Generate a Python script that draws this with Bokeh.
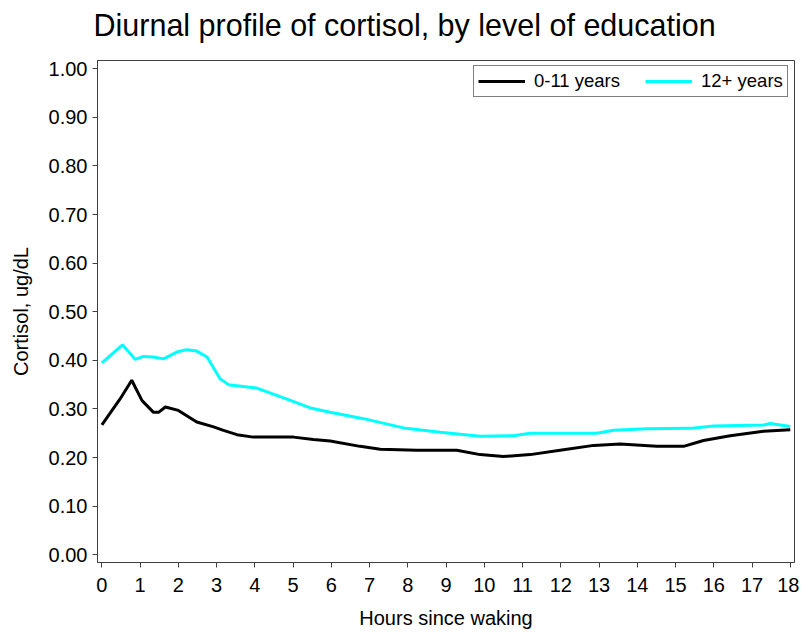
from bokeh.plotting import figure
from bokeh.models import Range1d, FixedTicker, Legend, LegendItem, CustomJSTickFormatter, Title
from bokeh.embed import file_html
from bokeh.resources import INLINE

# Hours since waking / cortisol (ug/dL)
hours_low = [0.00, 0.48, 0.78, 1.05, 1.35, 1.48, 1.66, 2.00, 2.48, 2.92, 3.18, 3.53,
             3.96, 5.01, 5.53, 5.97, 6.75, 7.28, 8.24, 9.28, 9.89, 10.50, 11.20,
             12.07, 12.86, 13.55, 14.51, 15.21, 15.73, 16.43, 17.30, 18.00]
cortisol_low = [0.267, 0.321, 0.359, 0.317, 0.293, 0.293, 0.304, 0.297, 0.273, 0.263,
                0.256, 0.247, 0.242, 0.242, 0.237, 0.234, 0.223, 0.217, 0.215, 0.215,
                0.206, 0.202, 0.206, 0.216, 0.225, 0.228, 0.223, 0.223, 0.235, 0.245,
                0.254, 0.257]

hours_high = [0.00, 0.54, 0.87, 1.09, 1.35, 1.61, 1.96, 2.22, 2.48, 2.75, 3.09, 3.31,
              4.05, 4.84, 5.45, 5.97, 6.84, 7.89, 8.85, 9.89, 10.76, 11.20, 12.94,
              13.38, 14.25, 15.38, 15.99, 17.30, 17.48, 18.00]
cortisol_high = [0.395, 0.432, 0.402, 0.408, 0.407, 0.403, 0.417, 0.422, 0.419, 0.407,
                 0.362, 0.350, 0.343, 0.320, 0.302, 0.293, 0.280, 0.261, 0.252, 0.244,
                 0.245, 0.250, 0.250, 0.256, 0.259, 0.260, 0.265, 0.267, 0.270, 0.264]

title_text = "Diurnal profile of cortisol, by level of education"
series_labels = ["0-11 years", "12+ years"]
x_ticks = list(range(0, 19))
y_ticks = [0.0, 0.1, 0.2, 0.3, 0.4, 0.5, 0.6, 0.7, 0.8, 0.9, 1.0]

FONT = "Liberation Sans"
AXC = "#404040"

p = figure(width=799, height=636, output_backend="svg", toolbar_location=None,
           x_range=Range1d(-0.115, 18.11), y_range=Range1d(-0.016, 1.017),
           min_border_left=97, min_border_right=5, min_border_top=60, min_border_bottom=74)

# blank spacer between frame and title (white space on white), then the title itself
p.add_layout(Title(text=" ", text_font=FONT, text_font_size="10px", standoff=6,
                   text_color="white"), "above")
p.add_layout(Title(text=title_text, text_font=FONT, text_font_size="30.5px",
                   text_font_style="normal", text_color="black", align="left",
                   offset=-4, standoff=0), "above")

p.grid.visible = False
p.outline_line_color = AXC
p.outline_line_width = 1
p.outline_line_alpha = 1

for ax in (p.xaxis[0], p.yaxis[0]):
    ax.axis_line_color = AXC
    ax.major_tick_line_color = AXC
    ax.minor_tick_line_color = None
    ax.major_tick_out = 5
    ax.major_tick_in = 0
    ax.major_label_text_font = FONT
    ax.major_label_text_font_size = "20px"
    ax.major_label_text_color = "black"
    ax.axis_label_text_font = FONT
    ax.axis_label_text_font_size = "20px"
    ax.axis_label_text_font_style = "normal"
    ax.axis_label_text_color = "black"

p.xaxis.ticker = FixedTicker(ticks=x_ticks)
p.yaxis.ticker = FixedTicker(ticks=y_ticks)
p.yaxis.formatter = CustomJSTickFormatter(code="return tick.toFixed(2);")
p.xaxis.axis_label = "Hours since waking"
p.yaxis.axis_label = "Cortisol, ug/dL"
p.xaxis.major_label_standoff = 10
p.yaxis.major_label_standoff = 5
p.xaxis.axis_label_standoff = 12
p.yaxis.axis_label_standoff = 14

r_low = p.line(hours_low, cortisol_low, line_color="black", line_width=3)
r_high = p.line(hours_high, cortisol_high, line_color="#00FFFF", line_width=3)

legend = Legend(items=[LegendItem(label=series_labels[0], renderers=[r_low]),
                       LegendItem(label=series_labels[1], renderers=[r_high])],
                location=(376, 465), orientation="horizontal",
                label_text_font=FONT, label_text_font_size="18.5px", label_text_color="black",
                glyph_width=47, glyph_height=16, label_standoff=9, spacing=25,
                label_height=16,
                padding=4, margin=0, border_line_color="black", border_line_width=1,
                background_fill_alpha=1)
p.add_layout(legend)

open("out.html", "w").write(file_html(p, INLINE))
